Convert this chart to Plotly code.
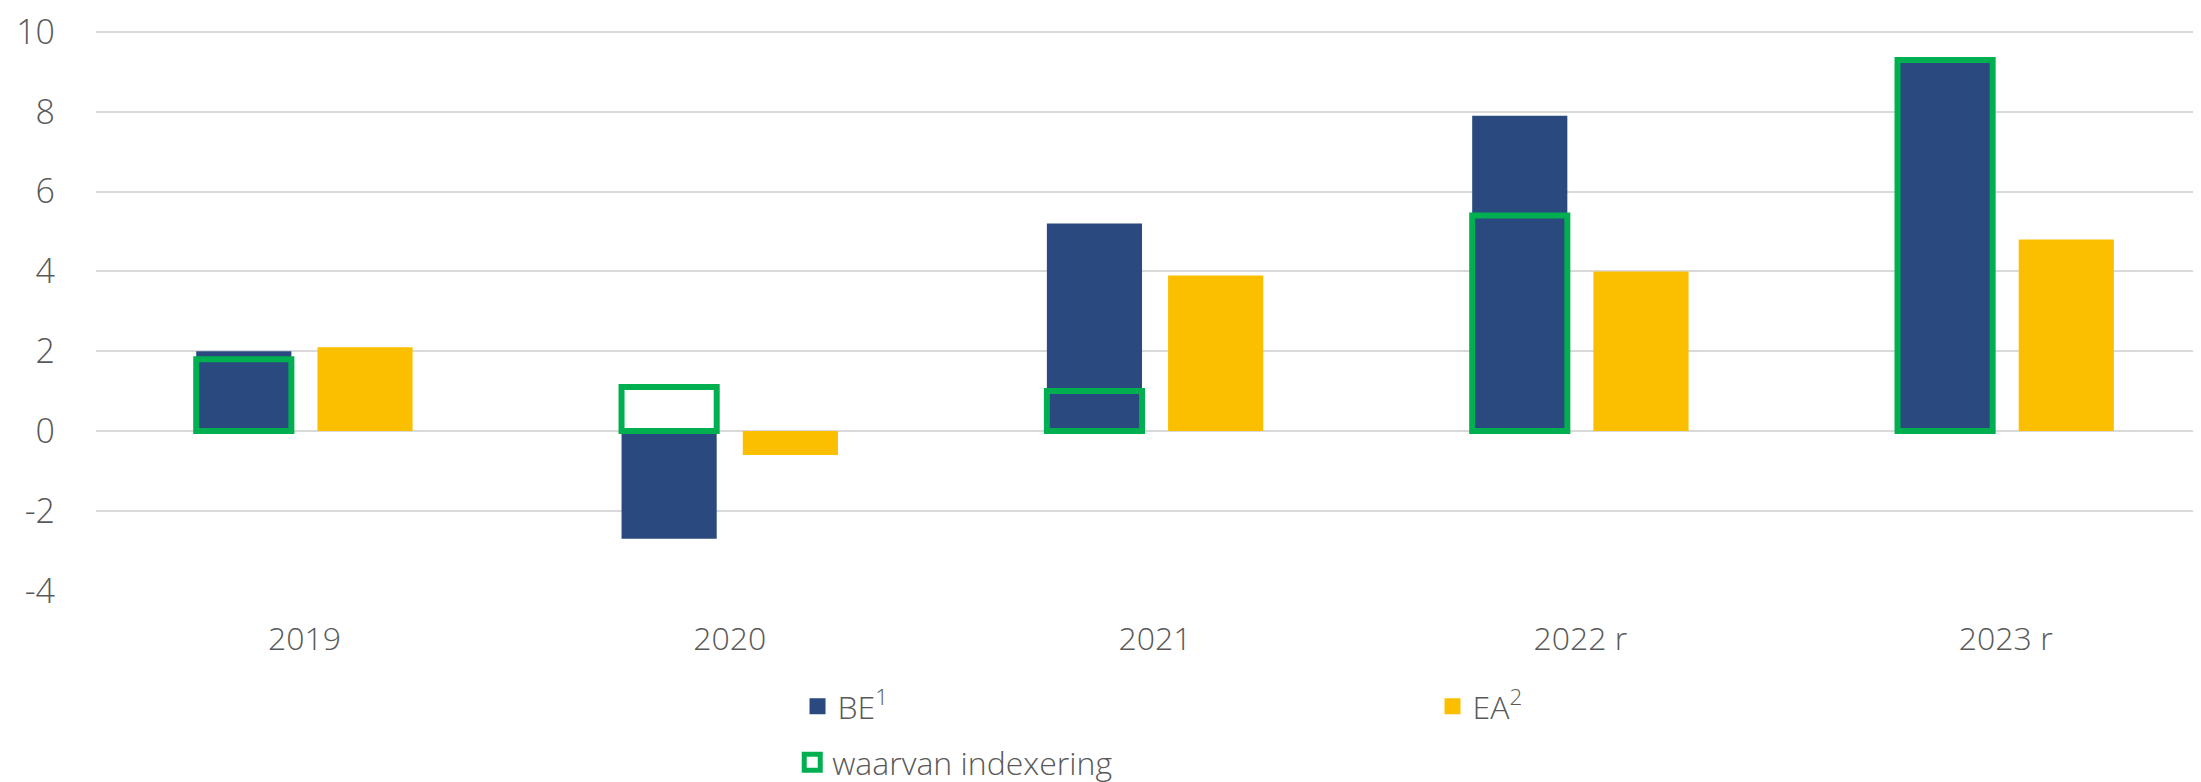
import plotly.graph_objects as go

# data
years = ["2019", "2020", "2021", "2022 r", "2023 r"]
be_values = [2.0, -2.7, 5.2, 7.9, 9.3]
ea_values = [2.1, -0.6, 3.9, 4.0, 4.8]
indexering = [1.8, 1.1, 1.0, 5.4, 9.3]
y_ticks = [-4, -2, 0, 2, 4, 6, 8, 10]
y_labels = ["-4", "-2", "0", "2", "4", "6", "8", "10"]

navy = "#2a497e"
yellow = "#fbbf00"
green = "#00b050"
grey_txt = "#595959"
font_family = "Open Sans"

fig = go.Figure()

# bars (legend handled by proxy traces below so the symbols can be bigger)
fig.add_trace(go.Bar(x=years, y=be_values, marker=dict(color=navy, line=dict(width=0)),
                     offsetgroup="be", showlegend=False))
fig.add_trace(go.Bar(x=years, y=ea_values, marker=dict(color=yellow, line=dict(width=0)),
                     offsetgroup="ea", showlegend=False))
fig.add_trace(go.Bar(x=years, y=indexering, offsetgroup="be", showlegend=False,
                     marker=dict(color="rgba(0,0,0,0)", line=dict(color=green, width=6))))

# legend entries
fig.add_trace(go.Scatter(x=[None], y=[None], mode="markers", name="BE<sup>1</sup>",
                         marker=dict(symbol="square", size=20, color=navy), legend="legend"))
fig.add_trace(go.Scatter(x=[None], y=[None], mode="markers", name="EA<sup>2</sup>",
                         marker=dict(symbol="square", size=20, color=yellow), legend="legend"))
fig.add_trace(go.Scatter(x=[None], y=[None], mode="markers", name="waarvan indexering",
                         marker=dict(symbol="square-open", size=20, color=green,
                                     line=dict(width=5, color=green)), legend="legend2"))

legend_font = dict(family=font_family, size=32, color=grey_txt, weight=300)

fig.update_layout(
    width=2201, height=782,
    margin=dict(l=88, r=0, t=20, b=189),
    plot_bgcolor="white", paper_bgcolor="white",
    barmode="group", bargap=0.43, bargroupgap=0.215,
    font=dict(family=font_family, color=grey_txt),
    legend=dict(orientation="h", x=0.332, xanchor="left", y=-0.205, yanchor="middle",
                font=legend_font, itemsizing="trace", entrywidth=590,
                bgcolor="rgba(0,0,0,0)"),
    legend2=dict(orientation="h", x=0.3295, xanchor="left", y=-0.305, yanchor="middle",
                 font=legend_font, itemsizing="trace", bgcolor="rgba(0,0,0,0)"),
)

fig.update_xaxes(
    type="category", range=[-0.49, 4.478], showgrid=False, showline=False, ticks="",
    tickfont=dict(family=font_family, size=32, color=grey_txt, weight=300),
    ticklabelstandoff=26, fixedrange=True,
)
fig.update_yaxes(
    range=[-4.01, 10.1], tickvals=y_ticks, ticktext=y_labels, showgrid=True,
    gridcolor="#d9d9d9", gridwidth=2,
    zeroline=True, zerolinecolor="#d9d9d9", zerolinewidth=2, showline=False, ticks="",
    tickfont=dict(family=font_family, size=34, color=grey_txt, weight=300),
    ticklabelstandoff=40, ticklabeloverflow="allow", fixedrange=True,
)

fig.write_html("out.html")
